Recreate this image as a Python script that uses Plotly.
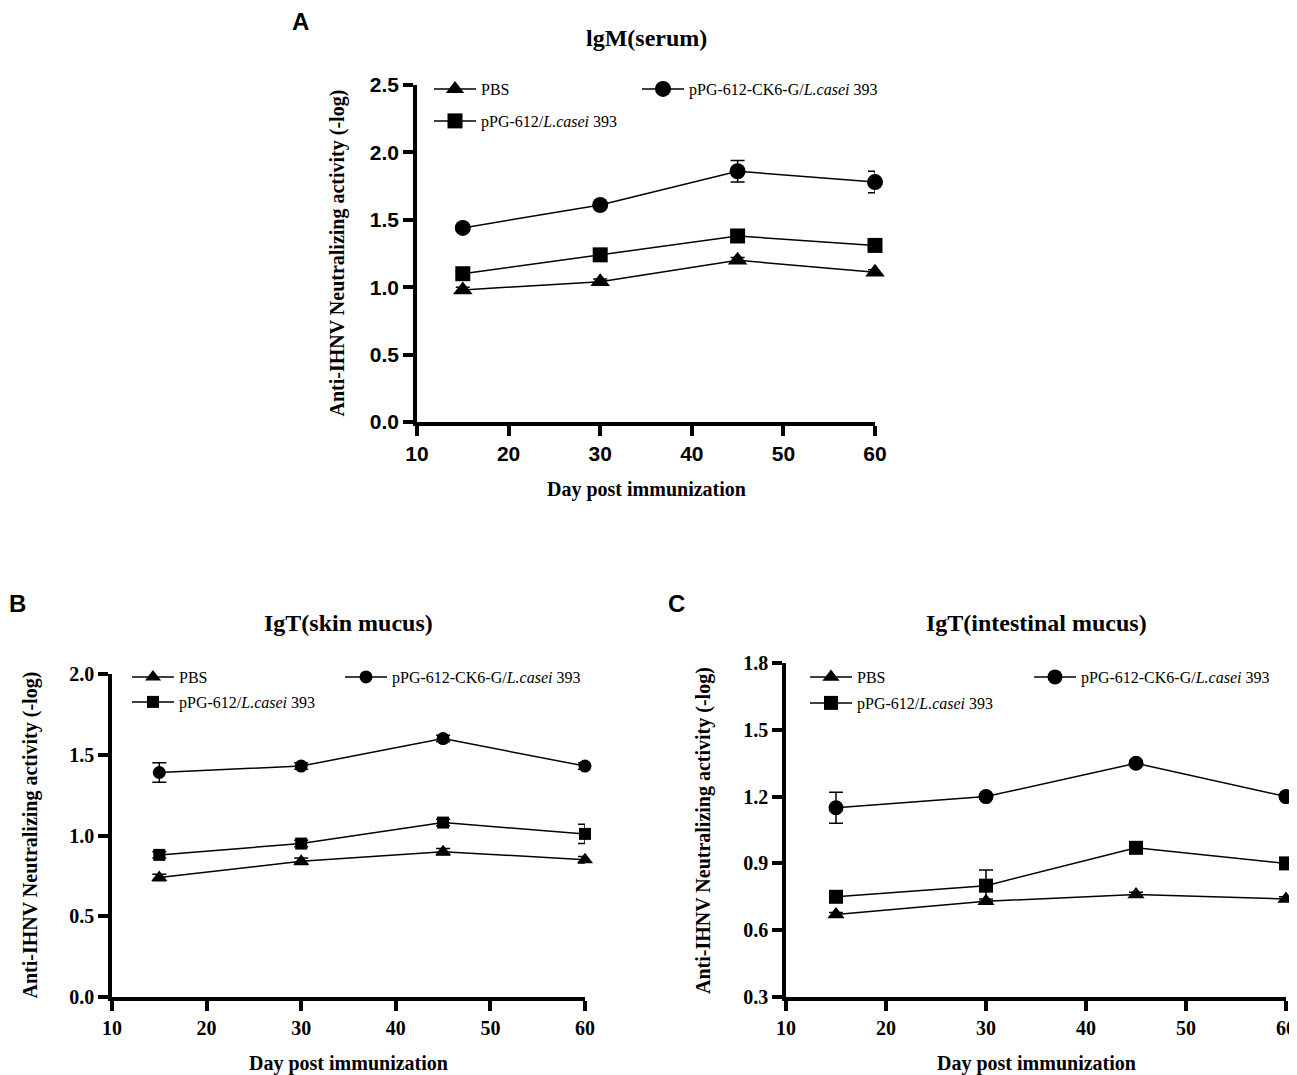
import plotly.graph_objects as go

# --- Canvas ---
# the page body keeps its default 8px margin, so the figure is shrunk by that
# much and every pixel position below is given in window coordinates
W, H = 1297, 1075
PAD = 8
FW, FH = W - PAD, H - PAD


def px(x):
    return (x - PAD) / FW


def py(y):
    return 1 - (y - PAD) / FH


# --- Data ---
days = [15, 30, 45, 60]
group_names = ["PBS", "pPG-612/<i>L.casei</i> 393", "pPG-612-CK6-G/<i>L.casei</i> 393"]

# A: IgM (serum)
igm_pbs = [0.98, 1.04, 1.20, 1.11]
igm_pbs_err = [0.02, 0.02, 0.02, 0.02]
igm_vec = [1.10, 1.24, 1.38, 1.31]
igm_vec_err = [0.02, 0.03, 0.03, 0.03]
igm_g = [1.44, 1.61, 1.86, 1.78]
igm_g_err = [0.02, 0.02, 0.08, 0.08]

# B: IgT (skin mucus)
skin_pbs = [0.74, 0.84, 0.90, 0.85]
skin_pbs_err = [0.02, 0.02, 0.02, 0.02]
skin_vec = [0.88, 0.95, 1.08, 1.01]
skin_vec_err = [0.02, 0.02, 0.02, 0.06]
skin_g = [1.39, 1.43, 1.60, 1.43]
skin_g_err = [0.06, 0.02, 0.02, 0.02]

# C: IgT (intestinal mucus)
gut_pbs = [0.67, 0.73, 0.76, 0.74]
gut_pbs_err = [0.01, 0.01, 0.01, 0.01]
gut_vec = [0.75, 0.80, 0.97, 0.90]
gut_vec_err = [0.01, 0.07, 0.01, 0.01]
gut_g = [1.15, 1.20, 1.35, 1.20]
gut_g_err = [0.07, 0.01, 0.01, 0.01]

x_ticks = [10, 20, 30, 40, 50, 60]

# --- Styling ---
SERIF = "Liberation Serif, Times New Roman, serif"
SANS = "Liberation Sans, Arial, sans-serif"
symbols = ["triangle-up", "square", "circle"]

panels = [
    dict(key="", letter="A", title="lgM(serum)",
         series=[(igm_pbs, igm_pbs_err), (igm_vec, igm_vec_err), (igm_g, igm_g_err)],
         xpx=(417, 875), ypx=(422, 85), yrange=(0, 2.5), dtick=0.5,
         tickfont=(SANS, 21), msize=[17, 15, 16],
         letter_pos=(300, 21), title_y=38, xtitle_y=490, ytitle_x=337,
         leg_cols=(429, 637), leg_rows=(89, 121)),
    dict(key="2", letter="B", title="IgT(skin mucus)",
         series=[(skin_pbs, skin_pbs_err), (skin_vec, skin_vec_err), (skin_g, skin_g_err)],
         xpx=(112, 585), ypx=(997, 674), yrange=(0, 2.0), dtick=0.5,
         tickfont=(SERIF, 20), msize=[14, 12, 13],
         letter_pos=(17, 603), title_y=623, xtitle_y=1063, ytitle_x=30,
         leg_cols=(127, 340), leg_rows=(677, 702)),
    dict(key="3", letter="C", title="IgT(intestinal mucus)",
         series=[(gut_pbs, gut_pbs_err), (gut_vec, gut_vec_err), (gut_g, gut_g_err)],
         xpx=(786, 1286), ypx=(997, 663), yrange=(0.3, 1.8), dtick=0.3,
         tickfont=(SERIF, 20), msize=[15, 14, 15],
         letter_pos=(676, 603), title_y=623, xtitle_y=1063, ytitle_x=703,
         leg_cols=(805, 1029), leg_rows=(677, 703)),
]

fig = go.Figure()
layout = dict(
    width=FW, height=FH,
    margin=dict(l=0, r=0, t=0, b=0),
    paper_bgcolor="white", plot_bgcolor="white",
    showlegend=True,
    annotations=[],
)

axis_common = dict(
    showline=True, linewidth=3.5, linecolor="black", mirror=False,
    ticks="outside", ticklen=10, tickwidth=3.5, tickcolor="black",
    showgrid=False, zeroline=False, automargin=False,
)

legend_count = 0
for p in panels:
    k = p["key"]
    xa, ya = "x" + k, "y" + k
    # legend slots: PBS -> left col row 1, vector -> left col row 2, CK6-G -> right col row 1
    slots = [(p["leg_cols"][0], p["leg_rows"][0]),
             (p["leg_cols"][0], p["leg_rows"][1]),
             (p["leg_cols"][1], p["leg_rows"][0])]

    for i, (vals, errs) in enumerate(p["series"]):
        legend_count += 1
        leg_id = "legend" if legend_count == 1 else f"legend{legend_count}"
        fig.add_trace(go.Scatter(
            x=days, y=vals, xaxis=xa, yaxis=ya,
            name=group_names[i], legend=leg_id,
            mode="lines+markers", cliponaxis=False,
            line=dict(color="black", width=1.5),
            marker=dict(symbol=symbols[i], size=p["msize"][i], color="black"),
            error_y=dict(type="data", array=errs, visible=True,
                         color="black", thickness=1.5, width=7),
        ))
        lx, ly = slots[i]
        layout[leg_id] = dict(
            x=px(lx), y=py(ly), xanchor="left", yanchor="middle",
            bgcolor="rgba(0,0,0,0)", borderwidth=0,
            font=dict(family=SERIF, size=16, color="black"),
            itemwidth=42, tracegroupgap=0,
        )

    font_family, font_size = p["tickfont"]
    tick_font = dict(family=font_family, size=font_size, color="black", weight="bold")
    layout["xaxis" + k] = dict(
        axis_common, domain=[px(p["xpx"][0]), px(p["xpx"][1])],
        range=[10, 60], tickvals=x_ticks, anchor=ya, tickfont=tick_font,
    )
    layout["yaxis" + k] = dict(
        axis_common, domain=[py(p["ypx"][0]), py(p["ypx"][1])],
        range=list(p["yrange"]), dtick=p["dtick"], tick0=p["yrange"][0],
        tickformat=".1f", anchor=xa, tickfont=tick_font,
    )

    xc = (p["xpx"][0] + p["xpx"][1]) / 2
    yc = (p["ypx"][0] + p["ypx"][1]) / 2
    layout["annotations"] += [
        dict(text=f"<b>{p['letter']}</b>", x=px(p["letter_pos"][0]), y=py(p["letter_pos"][1]),
             xref="paper", yref="paper", xanchor="center", yanchor="middle", showarrow=False,
             borderpad=0, font=dict(family=SANS, size=24, color="black")),
        dict(text=f"<b>{p['title']}</b>", x=px(xc), y=py(p["title_y"]),
             xref="paper", yref="paper", xanchor="center", yanchor="middle", showarrow=False,
             font=dict(family=SERIF, size=24, color="black")),
        dict(text="<b>Day post immunization</b>", x=px(xc), y=py(p["xtitle_y"]),
             xref="paper", yref="paper", xanchor="center", yanchor="middle", showarrow=False,
             font=dict(family=SERIF, size=20, color="black")),
        dict(text="<b>Anti-IHNV Neutralizing activity (-log)</b>", x=px(p["ytitle_x"]), y=py(yc),
             xref="paper", yref="paper", xanchor="center", yanchor="middle", showarrow=False,
             textangle=-90, font=dict(family=SERIF, size=20, color="black")),
    ]

fig.update_layout(**layout)
fig.write_html("out.html")
